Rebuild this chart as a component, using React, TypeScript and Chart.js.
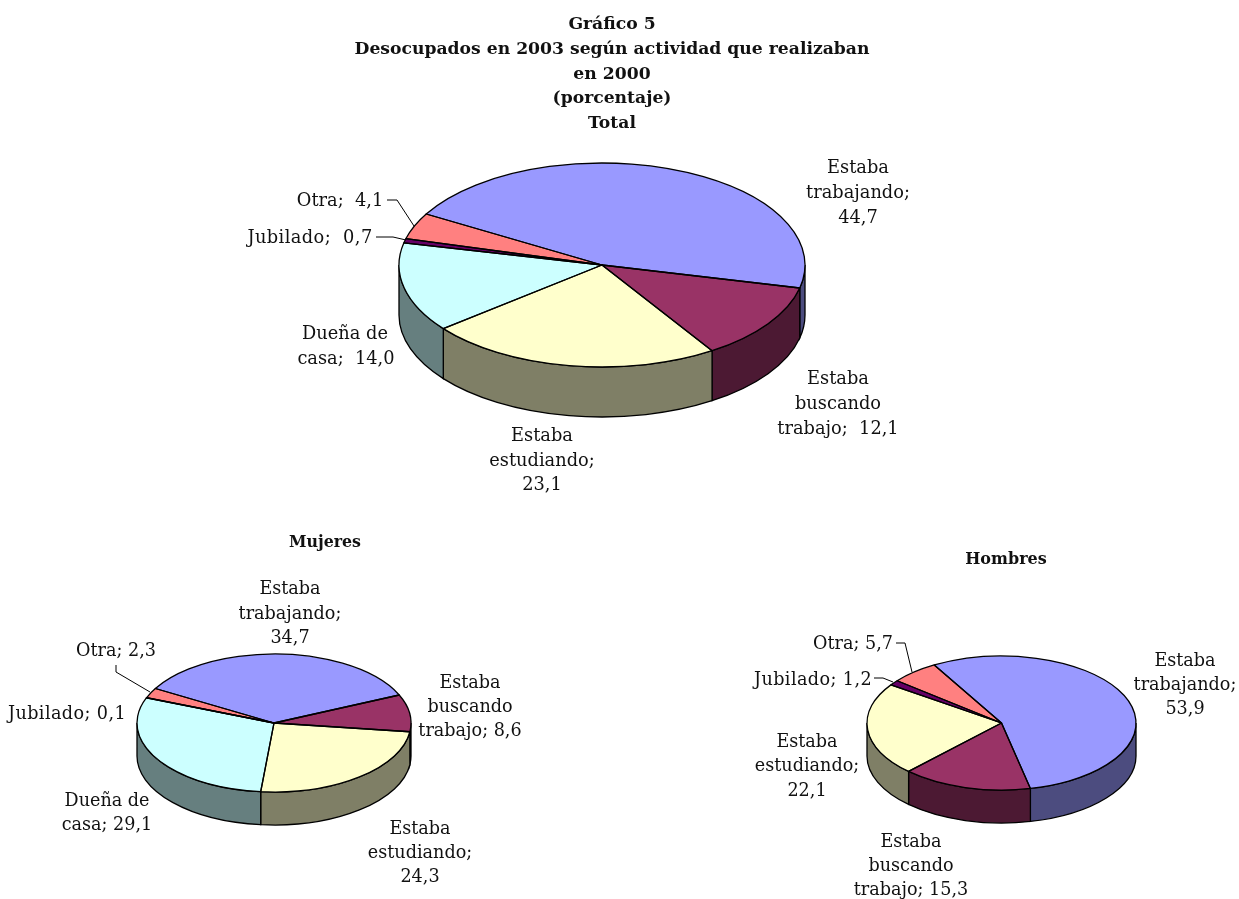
import React, { useEffect, useRef } from "react";
import { Chart, registerables } from "chart.js";

Chart.register(...registerables);

const categories = ["Estaba trabajando", "Estaba buscando trabajo", "Estaba estudiando", "Dueña de casa", "Jubilado", "Otra"];
const totalValues = [44.7, 12.1, 23.1, 14.0, 0.7, 4.1];
const mujeresValues = [34.7, 8.6, 24.3, 29.1, 0.1, 2.3];
const hombresValues = [53.9, 15.3, 22.1, 0, 1.2, 5.7];
const topColors = ["#9999FF", "#993366", "#FFFFCC", "#CCFFFF", "#660066", "#FF8080"];
const sideColors = ["#4C4C7F", "#4C1933", "#7F7F66", "#667F7F", "#330033", "#7F4040"];

const W = 1239;
const H = 899;
const FONT = '"DejaVu Serif"';

type Lab = [string, number, number, number?];
type Cfg = {
  values: number[]; rotation: number; cx: number; cy: number; rx: number; ry: number; depth: number;
  bold: Lab[]; boldSize: number; labelSize: number; labels: Lab[]; leaders: number[][][];
};

const panels: Cfg[] = [
  {
    values: totalValues, rotation: -60, cx: 602, cy: 265, rx: 203, ry: 102, depth: 50, boldSize: 17.2, labelSize: 17.8,
    bold: [["Gráfico 5", 612, 23], ["Desocupados en 2003 según actividad que realizaban", 612, 48], ["en 2000", 612, 73], ["(porcentaje)", 612, 97], ["Total", 612, 122]],
    labels: [
      ["Estaba", 858, 167], ["trabajando;", 858, 192], ["44,7", 858, 217],
      ["Estaba", 838, 378], ["buscando", 838, 403], ["trabajo;  12,1", 838, 428],
      ["Estaba", 542, 435], ["estudiando;", 542, 460], ["23,1", 542, 484],
      ["Dueña de", 345, 333], ["casa;  14,0", 346, 358],
      ["Jubilado;  0,7", 310, 237, 0.4], ["Otra;  4,1", 340, 200],
    ],
    leaders: [[[387, 200], [397, 200], [414, 226]], [[376, 237], [393, 237], [406, 240]]],
  },
  {
    values: mujeresValues, rotation: -60, cx: 274, cy: 723, rx: 137, ry: 69, depth: 33, boldSize: 15.8, labelSize: 17.6,
    bold: [["Mujeres", 325, 541]],
    labels: [
      ["Estaba", 290, 588], ["trabajando;", 290, 613], ["34,7", 290, 637],
      ["Estaba", 470, 682], ["buscando", 470, 706], ["trabajo; 8,6", 470, 730],
      ["Estaba", 420, 828], ["estudiando;", 420, 852], ["24,3", 420, 876],
      ["Dueña de", 107, 800], ["casa; 29,1", 107, 824],
      ["Jubilado; 0,1", 67, 713, 0.4], ["Otra; 2,3", 116, 650],
    ],
    leaders: [[[116, 665], [116, 672], [150, 692]]],
  },
  {
    values: hombresValues, rotation: -30, cx: 1001.5, cy: 723, rx: 134.5, ry: 67, depth: 33, boldSize: 16, labelSize: 17.6,
    bold: [["Hombres", 1006, 558]],
    labels: [
      ["Estaba", 1185, 660], ["trabajando;", 1185, 684], ["53,9", 1185, 708],
      ["Estaba", 911, 841], ["buscando", 911, 865], ["trabajo; 15,3", 911, 889],
      ["Estaba", 807, 741], ["estudiando;", 807, 765], ["22,1", 807, 790],
      ["Otra; 5,7", 853, 643], ["Jubilado; 1,2", 813, 679, 0.4],
    ],
    leaders: [[[896, 643], [905, 643], [912, 672]], [[874, 678], [883, 678], [893, 682]]],
  },
];

const OUTLINE = 1.3;

function makePlugin(c: Cfg) {
  const k = c.ry / c.rx;
  return {
    id: "pie3d",
    beforeDatasetsDraw(chart: any) {
      const ctx = chart.ctx;
      const arcs = chart.getDatasetMeta(0).data;
      ctx.save();
      ctx.strokeStyle = "#000";
      ctx.lineWidth = OUTLINE;
      arcs.forEach((arc: any, i: number) => {
        if (!c.values[i]) return;
        for (let n = -1; n <= 1; n++) {
          const s = Math.max(arc.startAngle, 2 * Math.PI * n);
          const e = Math.min(arc.endAngle, 2 * Math.PI * n + Math.PI);
          if (e <= s) continue;
          ctx.beginPath();
          ctx.ellipse(c.cx, c.cy, c.rx, c.ry, 0, s, e);
          ctx.ellipse(c.cx, c.cy + c.depth, c.rx, c.ry, 0, e, s, true);
          ctx.closePath();
          ctx.fillStyle = sideColors[i];
          ctx.fill();
          ctx.stroke();
        }
      });
      ctx.restore();
      ctx.save();
      ctx.translate(c.cx, c.cy);
      ctx.scale(1, k);
      ctx.translate(-c.cx, -c.cy);
    },
    afterDatasetsDraw(chart: any) {
      const ctx = chart.ctx;
      ctx.restore();
      ctx.save();
      ctx.strokeStyle = "#000";
      ctx.lineWidth = OUTLINE;
      ctx.lineJoin = "round";
      chart.getDatasetMeta(0).data.forEach((arc: any, i: number) => {
        if (!c.values[i]) return;
        ctx.beginPath();
        ctx.moveTo(c.cx, c.cy);
        ctx.ellipse(c.cx, c.cy, c.rx, c.ry, 0, arc.startAngle, arc.endAngle);
        ctx.closePath();
        ctx.stroke();
      });
      ctx.restore();
    },
    afterDraw(chart: any) {
      const ctx = chart.ctx;
      ctx.save();
      ctx.fillStyle = "#111";
      ctx.strokeStyle = "#000";
      ctx.lineWidth = 1;
      c.leaders.forEach((pts) => {
        ctx.beginPath();
        pts.forEach((p, j) => (j ? ctx.lineTo(p[0], p[1]) : ctx.moveTo(p[0], p[1])));
        ctx.stroke();
      });
      ctx.textAlign = "center";
      ctx.textBaseline = "middle";
      ctx.font = `${c.labelSize}px ${FONT}`;
      c.labels.forEach(([t, x, y, sp]) => {
        ctx.letterSpacing = `${sp ?? 0}px`;
        ctx.fillText(t, x, y + 1);
      });
      ctx.letterSpacing = "0px";
      ctx.font = `bold ${c.boldSize}px ${FONT}`;
      c.bold.forEach(([t, x, y]) => ctx.fillText(t, x, y + 1.5));
      ctx.restore();
    },
  };
}

function Pie({ cfg }: { cfg: Cfg }) {
  const ref = useRef<HTMLCanvasElement>(null);
  useEffect(() => {
    const chart = new Chart(ref.current as HTMLCanvasElement, {
      type: "pie",
      data: {
        labels: categories,
        datasets: [{ data: cfg.values, backgroundColor: topColors, borderWidth: 0, hoverOffset: 0, clip: false } as any],
      },
      options: {
        responsive: false,
        animation: false,
        events: [],
        rotation: cfg.rotation,
        layout: {
          padding: {
            left: cfg.cx - cfg.rx,
            right: W - cfg.cx - cfg.rx,
            top: cfg.cy - cfg.rx,
            bottom: H - cfg.cy - cfg.rx,
          },
        },
        plugins: { legend: { display: false }, tooltip: { enabled: false }, title: { display: false } },
      } as any,
      plugins: [makePlugin(cfg)],
    });
    return () => chart.destroy();
  }, [cfg]);
  return <canvas ref={ref} width={W} height={H} style={{ position: "absolute", left: 0, top: 0, width: W, height: H, display: "block" }} />;
}

export default function App() {
  return (
    <div style={{ position: "absolute", left: 0, top: 0, width: W, height: H, background: "#fff", overflow: "hidden" }}>
      {panels.map((p, i) => (
        <Pie key={i} cfg={p} />
      ))}
    </div>
  );
}
